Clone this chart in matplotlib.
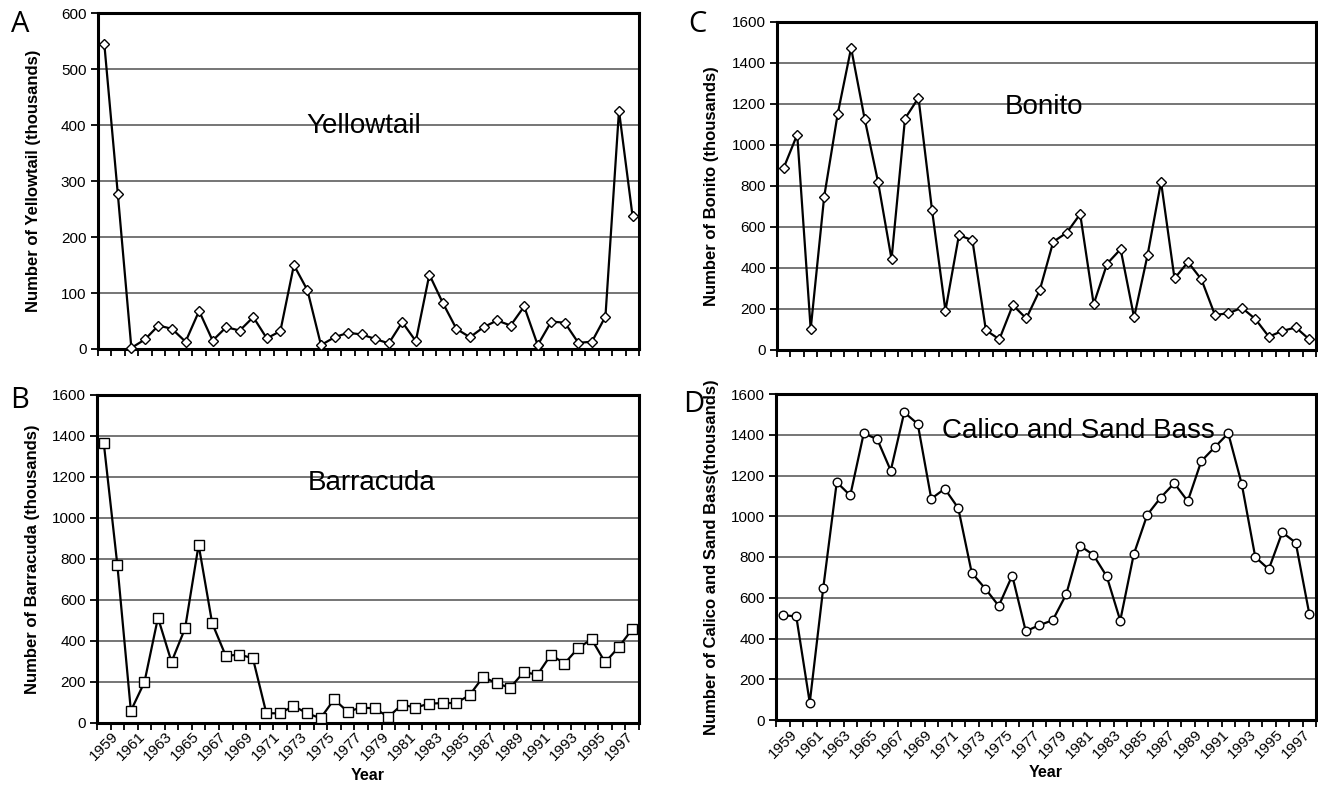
import numpy as np
import matplotlib
matplotlib.use("Agg")
import matplotlib.pyplot as plt

plt.rcParams['font.family'] = ['Liberation Sans', 'DejaVu Sans']

years = list(range(1959, 1999))

yellowtail = [546, 277, 2, 17, 42, 36, 13, 68, 15, 39,
              33, 57, 19, 32, 150, 105, 7, 21, 29, 26,
              18, 10, 48, 14, 133, 82, 36, 21, 39, 51,
              42, 76, 7, 49, 47, 11, 13, 58, 426, 238]

barracuda = [1365, 771, 57, 197, 512, 296, 460, 868, 485, 326,
             331, 315, 45, 45, 81, 45, 21, 113, 53, 73,
             69, 27, 87, 73, 92, 95, 95, 134, 223, 191,
             170, 247, 233, 331, 288, 363, 407, 294, 368, 456]

bonito = [889, 1051, 102, 747, 1150, 1473, 1129, 820, 443, 1129,
          1230, 685, 192, 560, 536, 97, 52, 219, 154, 292,
          528, 572, 663, 224, 421, 492, 159, 463, 820, 349,
          429, 344, 171, 179, 206, 151, 65, 93, 110, 52]

bass = [514, 509, 85, 648, 1167, 1102, 1407, 1378, 1224, 1510,
        1453, 1086, 1135, 1040, 722, 645, 560, 709, 436, 465,
        490, 617, 856, 811, 705, 488, 813, 1007, 1092, 1162,
        1074, 1270, 1339, 1407, 1158, 800, 740, 921, 870, 522]

W, H = 1318, 788
fig = plt.figure(figsize=(W / 100, H / 100), dpi=100)


def box(l, t, r, b):
    # pixel box -> figure fraction
    return [l / W, 1 - b / H, (r - l) / W, (b - t) / H]


def panel(rect, values, marker, ms, ymax, ystep, title, tpos, ylabel,
          ylab_x, letter, lpos, show_years):
    ax = fig.add_axes(rect)
    x = np.arange(len(years))
    ax.plot(x, values, color='black', lw=1.6, marker=marker, ms=ms,
            mfc='white', mec='black', mew=1.0, zorder=3, clip_on=False)
    ax.set_xlim(-0.5, len(years) - 0.5)
    ax.set_ylim(0, ymax)
    ax.set_yticks(np.arange(0, ymax + 1, ystep))
    ax.yaxis.grid(True, color='#6a6a6a', lw=1.3)
    ax.set_axisbelow(True)
    for s in ax.spines.values():
        s.set_linewidth(2.2)
    ax.tick_params(axis='y', direction='out', length=5, width=1.3,
                   labelsize=11, pad=3)
    # tick marks between categories, labels on every other year
    ax.set_xticks(np.arange(-0.5, len(years)), minor=True)
    ax.tick_params(axis='x', which='minor', direction='out', length=5,
                   width=1.3)
    if show_years:
        ax.set_xticks(x[::2])
        ax.set_xticklabels([str(y) for y in years[::2]], rotation=45,
                           ha='center', va='top', fontsize=11)
        ax.tick_params(axis='x', which='major', length=0, pad=5)
        ax.set_xlabel('Year', fontsize=11.5, fontweight='bold', labelpad=3)
    else:
        ax.set_xticks([])
    ax.set_ylabel(ylabel, fontsize=12, fontweight='bold')
    pos = ax.get_position()
    ax.yaxis.set_label_coords(ylab_x / W, (pos.y0 + pos.y1) / 2,
                              transform=fig.transFigure)
    ax.text(tpos[0], tpos[1], title, transform=ax.transAxes, fontsize=20,
            ha='center', va='center')
    fig.text(lpos[0] / W, 1 - lpos[1] / H, letter, fontsize=21,
             family=['Open Sans', 'DejaVu Sans'], ha='center', va='center')
    return ax


panel(box(97.5, 13.3, 639.3, 349), yellowtail, 'D', 5.2, 600, 100,
      'Yellowtail', (0.492, 0.664),
      'Number of Yellowtail (thousands)', 41, 'A', (20, 25), False)
panel(box(97, 395, 639, 722.5), barracuda, 's', 6.5, 1600, 200,
      'Barracuda', (0.506, 0.731),
      'Number of Barracuda (thousands)', 40, 'B', (20, 400), True)
panel(box(777, 22, 1316, 350), bonito, 'D', 5.2, 1600, 200,
      'Bonito', (0.496, 0.741),
      'Number of Bonito (thousands)', 719, 'C', (697, 25), False)
panel(box(776, 394, 1316, 720), bass, 'o', 6.2, 1600, 200,
      'Calico and Sand Bass', (0.56, 0.888),
      'Number of Calico and Sand Bass(thousands)', 719, 'D', (694, 404),
      True)

fig.savefig('out.png', dpi=100)
